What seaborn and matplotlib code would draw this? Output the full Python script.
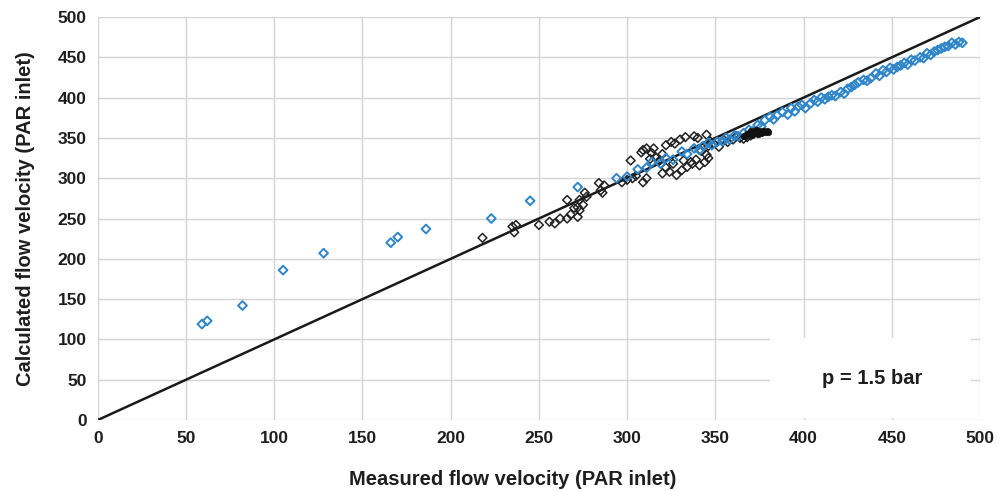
import matplotlib
matplotlib.use("Agg")
import matplotlib.pyplot as plt
import seaborn as sns
import numpy as np
import pandas as pd

# measured vs calculated flow velocity
blue_x = [59, 62, 82, 105, 128, 166, 170, 186, 223, 245, 272, 294,
          300, 306, 311, 314, 319, 322, 326, 331, 334, 338, 341, 343, 346,
          348, 351, 354, 356, 358, 361, 363, 366, 369, 371, 374, 376, 378,
          381, 383, 385, 388, 391, 393, 395, 397, 399, 401, 404, 406, 408,
          410, 412, 414, 416, 418, 421, 423, 425, 427, 429, 431, 434, 436,
          438, 441, 443, 445, 447, 449, 451, 453, 455, 457, 459, 461, 463,
          466, 468, 470, 472, 474, 476, 478, 480, 482, 484, 486, 488, 490]
blue_y = [119, 123, 142, 186, 207, 220, 227, 237, 250, 272, 289, 300,
          302, 311, 313, 320, 318, 325, 323, 333, 330, 337, 335, 340, 344,
          341, 345, 346, 350, 348, 353, 352, 356, 360, 358, 366, 364, 372,
          376, 373, 378, 382, 379, 387, 383, 389, 391, 387, 393, 397, 395,
          400, 398, 401, 403, 402, 407, 405, 411, 413, 416, 419, 422, 421,
          424, 430, 427, 434, 432, 437, 435, 438, 440, 443, 441, 447, 446,
          450, 449, 455, 453, 457, 459, 461, 463, 464, 468, 466, 469, 468]

black_x = [218, 235, 237, 236, 250, 256, 259, 262, 266, 266, 268, 270,
           272, 272, 273, 273, 275, 276, 277, 284, 285, 286, 287, 297,
           300, 302, 303, 305, 308, 309, 309, 311, 311, 313, 314, 315,
           316, 318, 320, 320, 322, 322, 324, 325, 326, 327, 328, 330,
           331, 332, 333, 334, 336, 337, 338, 339, 340, 341, 342, 344,
           345, 345, 346, 346, 347, 349, 352, 355, 357, 360, 362, 364,
           366, 368, 370]
black_y = [226, 240, 242, 233, 242, 246, 244, 250, 250, 273, 255, 263,
           252, 264, 260, 273, 267, 282, 277, 294, 285, 282, 291, 295,
           298, 322, 300, 303, 332, 295, 335, 337, 300, 324, 331, 337,
           326, 321, 306, 330, 313, 341, 308, 345, 318, 343, 304, 348,
           310, 322, 351, 314, 320, 318, 352, 323, 350, 316, 334, 320,
           329, 354, 325, 340, 346, 343, 339, 347, 345, 348, 352, 350,
           349, 351, 353]

dot_x = [366, 368, 370, 371, 372, 373, 374, 375, 376, 377, 378, 379, 380]
dot_y = [352, 355, 358, 354, 357, 360, 355, 358, 356, 359, 357, 358, 357]

line_x = [0, 500]
line_y = [0, 500]

sns.set_style("whitegrid")
plt.rcParams['font.family'] = ['Liberation Sans', 'DejaVu Sans']

fig = plt.figure(figsize=(9.98, 4.91), dpi=100)
ax = fig.add_axes([0.098, 0.1446, 0.884, 0.8207])

grid_col = "#d4d4d4"
blue = "#2e86c9"
txt = "#1e1e1e"

sns.lineplot(x=line_x, y=line_y, color="#1a1a1a", linewidth=1.8, ax=ax, zorder=2)
sns.scatterplot(x=black_x, y=black_y, marker="D", s=20, facecolors="none",
                edgecolor="#222222", linewidth=1.1, ax=ax, zorder=3)
sns.scatterplot(x=blue_x, y=blue_y, marker="D", s=20, facecolors="none",
                edgecolor=blue, linewidth=1.4, ax=ax, zorder=4)
sns.scatterplot(x=dot_x, y=dot_y, marker="o", s=22, color="#111111",
                edgecolor="#111111", linewidth=0.5, ax=ax, zorder=5)

ax.set_xlim(0, 500)
ax.set_ylim(0, 500)
ax.set_xticks(np.arange(0, 501, 50))
ax.set_yticks(np.arange(0, 501, 50))
ax.grid(True, color=grid_col, linewidth=1.0)
ax.set_axisbelow(True)
for sp in ax.spines.values():
    sp.set_visible(False)
ax.tick_params(axis="both", which="major", length=5, width=1.0, color=grid_col,
               direction="out", labelsize=12.5, pad=3, labelcolor=txt)
for lab in ax.get_xticklabels() + ax.get_yticklabels():
    lab.set_fontweight("bold")

ax.set_xlabel("Measured flow velocity (PAR inlet)", fontsize=14.5, fontweight="bold",
              color=txt, labelpad=17)
ax.set_ylabel("Calculated flow velocity (PAR inlet)", fontsize=14.5, fontweight="bold",
              color=txt, labelpad=16)
ax.xaxis.label.set_x(0.47)

# white label box hiding the grid in the corner
box = plt.Rectangle((381, 2), 114, 100, facecolor="white", edgecolor="none", zorder=1.5)
ax.add_patch(box)
ax.text(439, 52, "p = 1.5 bar", ha="center", va="center", fontsize=14.5,
        fontweight="bold", color=txt, zorder=6)

fig.savefig("out.png", dpi=100)
